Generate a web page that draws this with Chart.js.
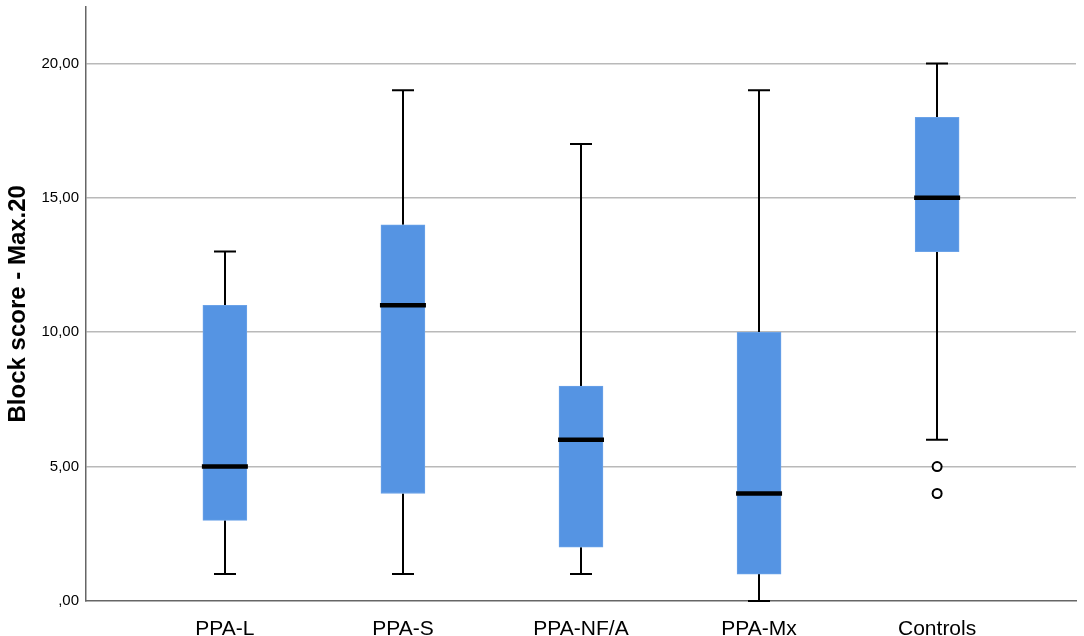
<!DOCTYPE html>
<html>
<head>
<meta charset="utf-8">
<script src="https://cdn.jsdelivr.net/npm/chart.js@4/dist/chart.umd.min.js"></script>
<style>
  html, body { margin: 0; padding: 0; background: #fff; }
  #wrap { width: 1084px; height: 636px; }
</style>
</head>
<body>
<div id="wrap"><canvas id="myChart" width="1084" height="636"></canvas></div>
<script>
var categories = ["PPA-L", "PPA-S", "PPA-NF/A", "PPA-Mx", "Controls"];
var whiskerLow = [1, 1, 1, 0, 6];
var q1 = [3, 4, 2, 1, 13];
var median = [5, 11, 6, 4, 15];
var q3 = [11, 14, 8, 10, 18];
var whiskerHigh = [13, 19, 17, 19, 20];
var outlierValues = [[], [], [], [], [5, 4]];
var yTicks = [0, 5, 10, 15, 20];

var boxes = categories.map(function (c, i) {
  return { x: i, y: [q1[i], q3[i]] };
});
var outliers = [];
outlierValues.forEach(function (vals, i) {
  vals.forEach(function (v) { outliers.push({ x: i, y: v }); });
});

// whiskers + caps behind the boxes, median lines on top
var boxPlotLines = {
  id: "boxPlotLines",
  beforeDatasetsDraw: function (chart) {
    var ctx = chart.ctx, x = chart.scales.x, y = chart.scales.y;
    ctx.save();
    ctx.strokeStyle = "#000";
    ctx.lineWidth = 2;
    categories.forEach(function (c, i) {
      var px = Math.round(x.getPixelForValue(i));
      var lo = y.getPixelForValue(whiskerLow[i]);
      var hi = y.getPixelForValue(whiskerHigh[i]);
      ctx.beginPath();
      ctx.moveTo(px, lo); ctx.lineTo(px, y.getPixelForValue(q1[i]));
      ctx.moveTo(px, hi); ctx.lineTo(px, y.getPixelForValue(q3[i]));
      ctx.moveTo(px - 11, lo); ctx.lineTo(px + 11, lo);
      ctx.moveTo(px - 11, hi); ctx.lineTo(px + 11, hi);
      ctx.stroke();
    });
    ctx.restore();
  },
  afterDatasetsDraw: function (chart) {
    var ctx = chart.ctx, x = chart.scales.x, y = chart.scales.y;
    ctx.save();
    ctx.strokeStyle = "#000";
    ctx.lineWidth = 4.5;
    categories.forEach(function (c, i) {
      var px = x.getPixelForValue(i);
      var py = y.getPixelForValue(median[i]);
      ctx.beginPath();
      ctx.moveTo(px - 23, py); ctx.lineTo(px + 23, py);
      ctx.stroke();
    });
    ctx.restore();
  }
};

function noEdgePadding(scale) {
  scale.paddingTop = 0;
  scale.paddingBottom = 0;
  scale.paddingLeft = 0;
  scale.paddingRight = 0;
}

var data = {
  datasets: [
    {
      type: "bar",
      data: boxes,
      backgroundColor: "#5594e3",
      borderColor: "#6aa2e8",
      borderWidth: 1,
      borderSkipped: false,
      barThickness: 44,
      order: 2
    },
    {
      type: "scatter",
      data: outliers,
      pointStyle: "circle",
      pointRadius: 4.5,
      pointBackgroundColor: "#fff",
      pointBorderColor: "#000",
      pointBorderWidth: 2,
      order: 1
    }
  ]
};

var config = {
  type: "bar",
  data: data,
  plugins: [boxPlotLines],
  options: {
    responsive: false,
    devicePixelRatio: 1,
    animation: false,
    layout: { padding: { top: 0, right: 8, left: 0, bottom: 0 } },
    plugins: { legend: { display: false }, tooltip: { enabled: false } },
    scales: {
      x: {
        type: "linear",
        offset: false,
        // SPSS leaves extra room either side of the first and last box
        min: -0.78,
        max: 4.78,
        afterBuildTicks: function (scale) {
          scale.ticks = categories.map(function (c, i) { return { value: i }; });
        },
        afterFit: function (scale) { scale.height = 35; noEdgePadding(scale); },
        grid: { display: false },
        border: { display: true, color: "#666", width: 1.5 },
        ticks: {
          padding: 8,
          color: "#000",
          maxRotation: 0,
          autoSkip: false,
          font: { family: "Liberation Sans", size: 21 },
          callback: function (v) { return categories[v]; }
        }
      },
      y: {
        min: 0,
        max: 22.12,
        afterBuildTicks: function (scale) {
          scale.ticks = yTicks.map(function (v) { return { value: v }; });
        },
        afterFit: function (scale) { scale.width = 86; noEdgePadding(scale); },
        grid: {
          drawTicks: false,
          lineWidth: 1.5,
          color: function (c) { return c.tick && c.tick.value === 0 ? "rgba(0,0,0,0)" : "#b9b9b9"; }
        },
        border: { display: true, color: "#666", width: 1.5 },
        title: {
          display: true,
          text: "Block score - Max.20",
          color: "#000",
          padding: { top: 4, bottom: 0 },
          font: { family: "Liberation Sans", size: 24, weight: "bold" }
        },
        ticks: {
          padding: 7,
          color: "#000",
          font: { family: "Liberation Sans", size: 15 },
          callback: function (v) {
            return v === 0 ? ",00" : v.toFixed(2).replace(".", ",");
          }
        }
      }
    }
  }
};

var myChart = new Chart(document.getElementById("myChart"), config);
</script>
</body>
</html>
